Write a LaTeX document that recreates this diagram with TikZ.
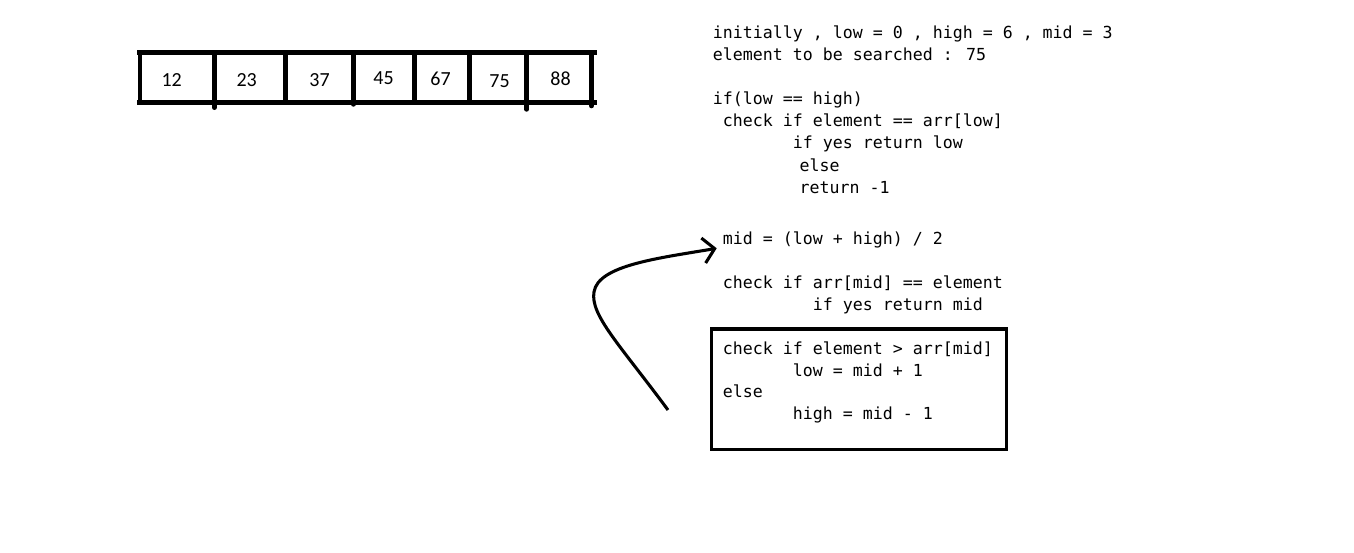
\documentclass[tikz,border=0pt]{standalone}
\usepackage{fontspec}
\usetikzlibrary{arrows.meta}
\newfontfamily\codefont{DejaVu Sans Mono}
\newfontfamily\numfont{Carlito}
\begin{document}
\begin{tikzpicture}[x=0.75pt,y=-0.75pt,
  code/.style={anchor=base west,inner sep=0pt,
    font=\codefont\fontsize{12.45pt}{15pt}\selectfont},
  cellnum/.style={anchor=base,inner sep=0pt,
    font=\numfont\fontsize{15pt}{18pt}\selectfont},
  bar/.style={line width=3.6pt},
  tick/.style={line width=3.6pt,line cap=round},
  loopbox/.style={draw,line width=2.5pt,minimum width=221.55pt,
    minimum height=90.2pt,inner sep=0pt},
  looparrow/.style={line width=2.3pt,
    -{Straight Barb[length=8.5pt,width=19pt]}}]
\fill[white] (0,0) rectangle (1354,553);
\useasboundingbox (0,0) rectangle (1354,553);

% the array frame
\draw[bar] (137,52.5) -- (597,52.5);
\draw[bar] (137,102.5) -- (597,102.5);
\draw[bar] (140,50) -- (140,105);
\draw[tick] (214.3,54) -- (214.3,107.6);
\draw[bar] (285.3,52) -- (285.3,103);
\draw[tick] (353.3,54) -- (353.3,104.3);
\draw[tick] (414.3,54) -- (414.3,102);
\draw[bar] (469.7,52) -- (469.7,103);
\draw[tick] (526.7,54) -- (526.7,109.3);
\draw[tick] (591.5,54) -- (591.5,105.9);

% array values
\node[cellnum] (v0) at (171.7,86.7) {12};
\node[cellnum] (v1) at (246.7,86.7) {23};
\node[cellnum] (v2) at (319.5,86.7) {37};
\node[cellnum] (v3) at (383.5,84.3) {45};
\node[cellnum] (v4) at (440.5,85) {67};
\node[cellnum] (v5) at (499.5,87.3) {75};
\node[cellnum] (v6) at (560.5,85.7) {88};

% algorithm text
\node[code] (init) at (712.7,38.5) {initially , low = 0 , high = 6 , mid = 3};
\node[code] (target) at (712.7,60.5) {element to be searched : 75};
\node[code] (base) at (712.7,104.5) {if(low == high)};
\node[code] (chklow) at (722.7,126.5) {check if element == arr[low]};
\node[code] (retlow) at (792.7,148.5) {if yes return low};
\node[code] (elsea) at (799.3,171) {else};
\node[code] (retneg) at (799.3,193) {return -1};
\node[code] (mideq) at (722.7,244) {mid = (low + high) / 2};
\node[code] (chkmid) at (722.7,288.3) {check if arr[mid] == element};
\node[code] (retmid) at (812.7,310) {if yes return mid};

% update step in a frame
\node[loopbox] (update) at (859,389.15) {};
\node[code] (chkgt) at (722.7,354.3) {check if element > arr[mid]};
\node[code] (lowup) at (792.7,376) {low = mid + 1};
\node[code] (elseb) at (722.7,397.7) {else};
\node[code] (highup) at (792.7,419.3) {high = mid - 1};

% loop back to recompute mid
\coordinate (loopstart) at (668,410);
\coordinate (looptip) at (716.7,248.3);
\draw[looparrow] (loopstart) .. controls (620,345) and (590,315) .. (594,292)
  .. controls (598,265) and (660,258) .. (looptip);
\end{tikzpicture}
\end{document}
